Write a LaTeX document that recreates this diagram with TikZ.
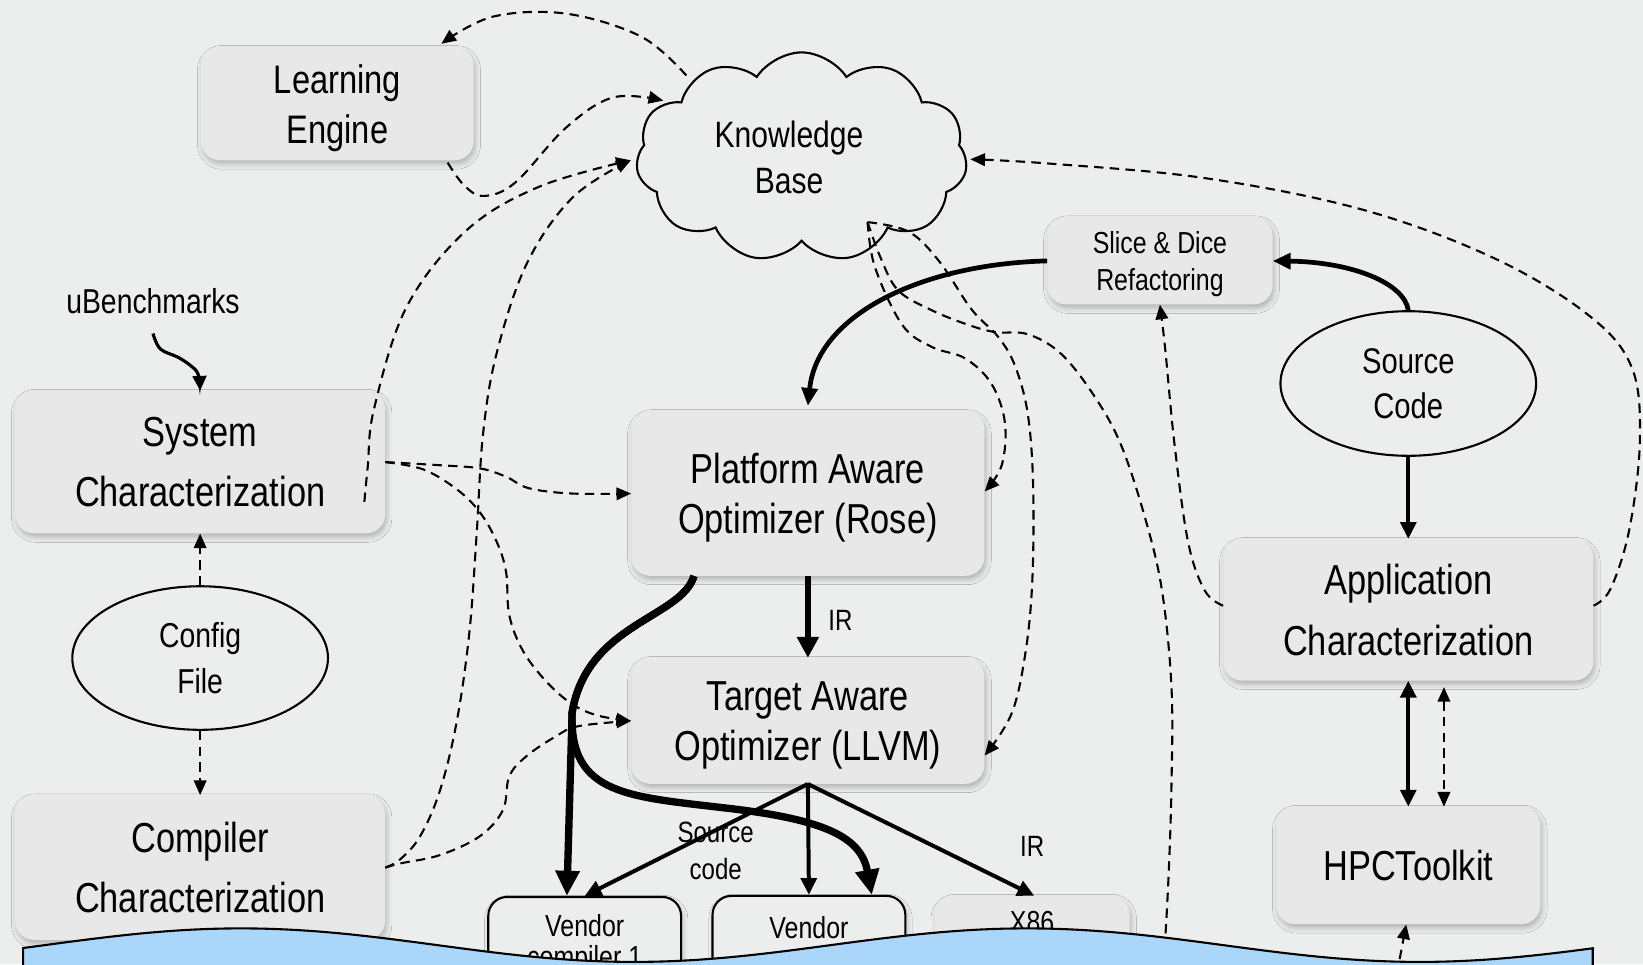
\documentclass[tikz,border=0pt]{standalone}
\usepackage{fontspec}
\setmainfont{Liberation Sans}[FakeStretch=0.82]
\usetikzlibrary{arrows.meta,shapes.geometric,shapes.symbols,shadows.blur}

\definecolor{bg}{RGB}{236,238,237}
\definecolor{boxfill}{RGB}{232,232,232}
\definecolor{sea}{RGB}{170,214,250}

\tikzset{
  softshadow/.style={blur shadow={shadow xshift=1.5pt, shadow yshift=-3.5pt,
      shadow blur radius=5pt, shadow opacity=25}},
  panel/.style={fill=boxfill, rounded corners=18pt, inner sep=0pt, align=center,
      text depth=0pt, softshadow},
  oval/.style={ellipse, draw, line width=2pt, fill=bg, inner sep=0pt, align=center},
  outbox/.style={draw, line width=2pt, fill=bg, rounded corners=18pt, inner sep=0pt,
      align=center, softshadow},
  dplain/.style={line width=2pt, dash pattern=on 9pt off 6pt},
  dline/.style={dplain, -{Triangle[length=14pt,width=12pt]}},
  heavy/.style={line width=7pt, -{Triangle[length=24pt,width=22pt]}},
  medarrow/.style={line width=4.5pt, -{Triangle[length=17pt,width=15pt]}},
  outarrow/.style={line width=3.8pt, -{Triangle[length=16pt,width=15pt]}},
}

\begin{document}
\begin{tikzpicture}[x=1pt,y=-1pt]
\path[use as bounding box, fill=bg] (0,0) rectangle (1568,920);

% ---------- nodes ----------
\node[panel, minimum width=260pt, minimum height=108pt, font=\fontsize{38}{48}\selectfont]
  (le) at (322,99) {Learning\\Engine};
\node[cloud, cloud puffs=11, cloud puff arc=115, aspect=1.6, draw, line width=2pt, fill=bg,
  minimum width=316pt, minimum height=200pt, inner sep=0pt] (kb) at (765,150) {};
\node[inner sep=0pt, align=center, font=\fontsize{35}{44}\selectfont]
  (kbt) at (753,150) {Knowledge\\Base};
\node[panel, minimum width=215pt, minimum height=83pt, font=\fontsize{29}{36}\selectfont]
  (sdr) at (1107,249) {Slice \& Dice\\Refactoring};
\node[inner sep=0pt, font=\fontsize{33}{40}\selectfont] (ub) at (146,287) {uBenchmarks};
\node[panel, minimum width=353pt, minimum height=136pt, font=\fontsize{40}{57}\selectfont]
  (sys) at (191,441) {System\\Characterization};
\node[oval, minimum width=244pt, minimum height=137pt, font=\fontsize{33}{44}\selectfont]
  (cfg) at (191,628) {Config\\File};
\node[panel, minimum width=353pt, minimum height=138pt, font=\fontsize{40}{57}\selectfont]
  (cmp) at (191,828) {Compiler\\Characterization};
\node[panel, minimum width=337pt, minimum height=157pt, font=\fontsize{40}{48}\selectfont]
  (pao) at (771,471) {Platform Aware\\Optimizer (Rose)};
\node[panel, minimum width=337pt, minimum height=120pt, font=\fontsize{40}{48}\selectfont]
  (tao) at (771,688) {Target Aware\\Optimizer (LLVM)};
\node[oval, minimum width=244pt, minimum height=138pt, font=\fontsize{34}{43}\selectfont]
  (src) at (1344,366) {Source\\Code};
\node[panel, minimum width=353pt, minimum height=135pt, font=\fontsize{40}{58}\selectfont]
  (app) at (1344,582) {Application\\Characterization};
\node[panel, minimum width=252pt, minimum height=112pt, font=\fontsize{40}{48}\selectfont]
  (hpc) at (1344,826) {HPCToolkit};
\node[outbox, minimum width=184pt, minimum height=90pt, font=\fontsize{29}{30}\selectfont]
  (v1) at (558,901) {Vendor\\compiler 1};
\node[outbox, minimum width=184pt, minimum height=90pt] (v2) at (772,900) {};
\node[inner sep=0pt, font=\fontsize{29}{30}\selectfont] (v2t) at ([yshift=15pt]v2.center) {Vendor};
\node[panel, minimum width=186pt, minimum height=90pt] (x86) at (985,900) {};
\node[inner sep=0pt, font=\fontsize{29}{30}\selectfont] (x86t) at ([yshift=20pt]x86.center) {X86};

\node[inner sep=0pt, align=center, font=\fontsize{28}{36}\selectfont] (scl) at (683,812) {Source\\code};
\node[inner sep=0pt, font=\fontsize{28}{30}\selectfont] (ir1) at (802,592) {IR};
\node[inner sep=0pt, font=\fontsize{28}{30}\selectfont] (ir2) at (985,808) {IR};

% ---------- dashed knowledge flows ----------
\draw[dline] plot[smooth, tension=0.6] coordinates {([shift={(-110,-78)}]kb.center) (612,35) (540,13) (470,16) ([shift={(-31,-3)}]le.north east)};
\draw[dline] plot[smooth, tension=0.6] coordinates {([shift={(-25,2)}]le.south east) (443,177) (462,187) (492,174) (540,122) (585,93) ([shift={(-132,-54)}]kb.center)};
\draw[dline] plot[smooth, tension=0.6] coordinates {([shift={(-20,38)}]sys.east) (351,445) (357,390) (388,293) (445,220) (515,178) ([shift={(-163,3)}]kb.center)};
\draw[dline] plot[smooth, tension=0.6] coordinates {(cmp.east) (382,820) (401,798) (420,754) (436,688) (448,603) (455,508) (461,414) (474,337) (503,251) (547,188) ([shift={(-163,3)}]kb.center)};
\draw[dline] plot[smooth, tension=0.6] coordinates {(sys.east) (420,444) (458,447) (483,455) (505,466) (546,471) (pao.west)};
\draw[dline] plot[smooth, tension=0.6] coordinates {(sys.east) (404,448) (436,467) (458,489) (474,517) (483,546) (486,587) (499,621) (521,650) (546,672) (571,683) (tao.west)};
\draw[dline] plot[smooth, tension=0.6] coordinates {(cmp.east) (382,824) (420,816) (458,798) (480,773) (486,741) (502,722) (530,703) (552,693) (tao.west)};

\draw[dline] plot[smooth, tension=0.6] coordinates {([shift={(63,62)}]kb.center) (835,255) (861,310) (889,331) (921,342) (946,366) (959,403) (956,444) ([yshift=2pt]pao.east)};
\draw[dline] plot[smooth, tension=0.6] coordinates {([shift={(63,62)}]kb.center) (867,221) (896,249) (927,295) (953,322) (969,350) (981,396) (986,465) (985,558) (978,627) (965,682) ([yshift=-33pt]tao.east)};
\coordinate (seaA) at (1110,930);
\draw[dplain] plot[smooth, tension=0.6] coordinates {([shift={(63,62)}]kb.center) (840,245) (857,277) (889,296) (924,310) (950,317) (981,319) (1013,338) (1045,379) (1070,425) (1093,495) (1109,564) (1118,656) (1118,749) (1115,841) (seaA)};

\draw[dline] plot[smooth, tension=0.6] coordinates {([yshift=4pt]app.west) (1150,564) (1134,518) (1121,425) (1112,333) (sdr.south)};
\draw[dline] plot[smooth, tension=0.6] coordinates {([yshift=4pt]app.east) (1537,562) (1555,505) (1565,420) (1557,350) (1515,300) (1425,246) (1300,200) (1150,170) (1000,156) ([shift={(161,2)}]kb.center)};

\draw[dline] (cfg.north) -- (sys.south);
\draw[dline] (cfg.south) -- (cmp.north);
\draw[dplain, {Triangle[length=14pt,width=12pt]}-{Triangle[length=14pt,width=12pt]}]
  ([xshift=34pt,yshift=-6pt]app.south) -- ([xshift=34pt]hpc.north);
\coordinate (seaB) at (1333,930);
\draw[dline] (seaB) -- ([xshift=-2pt]hpc.south);

% ---------- solid flows ----------
\draw[line width=3pt, -{Triangle[length=14pt,width=13pt]}] plot[smooth, tension=0.6]
  coordinates {([yshift=-19pt]ub.south) (153,333) (170,341) (182,349) (189,357) (sys.north)};
\draw[medarrow] (sdr.west) .. controls (880,252) and (780,300) .. ([yshift=5pt]pao.north);
\draw[medarrow] (src.north) .. controls (1340,270) and (1290,250) .. (sdr.east);
\draw[outarrow] (src.south) -- (app.north);
\draw[line width=3.8pt, {Triangle[length=16pt,width=15pt]}-{Triangle[length=16pt,width=15pt]}]
  (app.south) -- (hpc.north);
\draw[line width=6pt, -{Triangle[length=20pt,width=20pt]}] (pao.south) -- (tao.north);

\draw[heavy] ([xshift=60pt]pao.south west) .. controls (650,590) and (560,595) .. (546,680) -- ([xshift=-17pt]v1.north);
\draw[heavy] ([xshift=60pt]pao.south west) .. controls (650,590) and (560,595) .. (546,680)
  .. controls (543,760) and (600,760) .. (700,772) .. controls (790,783) and (822,800) .. ([xshift=60pt]v2.north);

\draw[outarrow] (tao.south) -- (v1.north);
\draw[outarrow] (tao.south) -- (v2.north);
\draw[outarrow] (tao.south) -- ([xshift=2pt]x86.north);

% ---------- sea band ----------
\draw[line width=2pt, fill=sea] (22,940) -- plot[domain=22:1520, samples=150]
  (\x,{902-16*cos(0.48*(\x-230))}) -- (1520,940) -- cycle;
\end{tikzpicture}
\end{document}
